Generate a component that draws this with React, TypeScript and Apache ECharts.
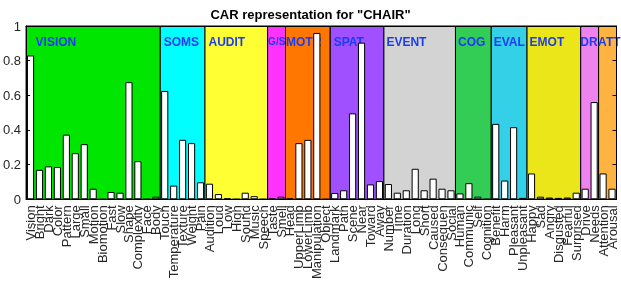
import React, { useEffect, useRef } from "react";
import * as echarts from "echarts";

const title = 'CAR representation for "CHAIR"';

const categories = [
  "Vision", "Bright", "Dark", "Color", "Pattern", "Large", "Small", "Motion", "Biomotion", "Fast", "Slow", "Shape", "Complexity", "Face", "Body",
  "Touch", "Temperature", "Texture", "Weight", "Pain",
  "Audition", "Loud", "Low", "High", "Sound", "Music", "Speech",
  "Taste", "Smell",
  "Head", "UpperLimb", "LowerLimb", "Manipulation", "Object",
  "Landmark", "Path", "Scene", "Near", "Toward", "Away",
  "Number", "Time", "Duration", "Long", "Short", "Caused", "Consequen", "Social",
  "Human", "Communic", "Self", "Cognition",
  "Benefit", "Harm", "Pleasant", "Unpleasant",
  "Happy", "Sad", "Angry", "Disgusted", "Fearful", "Surprised",
  "Drive", "Needs",
  "Attention", "Arousal",
];

const values = [
  0.83, 0.17, 0.19, 0.186, 0.373, 0.266, 0.318, 0.061, 0, 0.042, 0.038, 0.676, 0.22, 0, 0.015,
  0.625, 0.079, 0.343, 0.324, 0.098,
  0.09, 0.03, 0.005, 0, 0.038, 0.018, 0,
  0.004, 0.015,
  0.004, 0.324, 0.343, 0.96, 0,
  0.036, 0.052, 0.496, 0.904, 0.086, 0.105,
  0.088, 0.038, 0.052, 0.176, 0.052, 0.119, 0.061, 0.052,
  0.034, 0.093, 0.015, 0,
  0.435, 0.108, 0.416, 0.008,
  0.149, 0.015, 0.01, 0.008, 0.01, 0.038,
  0.061, 0.561,
  0.149, 0.061,
];

const groupNames = ["VISION", "SOMS", "AUDIT", "G/S", "MOTR", "SPAT", "EVENT", "COG", "EVAL", "EMOT", "DR", "ATT"];
const groupSizes = [15, 5, 7, 2, 5, 6, 8, 4, 4, 6, 2, 2];
const groupColors = ["#00e600", "#00ffff", "#ffff33", "#ff33ff", "#ff7700", "#a050ff", "#d3d3d3", "#33cc55", "#33d0e8", "#ebe61a", "#ee82ee", "#ffb340"];
const groupLabelOffsetX = [10, 4, 4, 1, 1, 4, 3, 3, 3, 3, 0, 0];
const groupLabelSize = [12, 12, 12, 10, 12, 12, 12, 12, 12, 12, 12, 12];

const yTicks = { min: 0, max: 1, interval: 0.2 };

export default function App() {
  const ref = useRef<HTMLDivElement>(null);

  useEffect(() => {
    if (!ref.current) return;
    const chart = echarts.init(ref.current, null, { renderer: "svg" });

    let start = 0;
    const areas = groupNames.map((name, i) => {
      const s = start;
      const e = start + groupSizes[i];
      start = e;
      return [
        {
          xAxis: s,
          name,
          itemStyle: { color: groupColors[i] },
          label: { position: [groupLabelOffsetX[i], groupLabelSize[i] < 12 ? 11 : 10], fontSize: groupLabelSize[i] },
        },
        { xAxis: e },
      ];
    });

    const font = "Liberation Sans, Arial, Helvetica, sans-serif";

    chart.setOption({
      animation: false,
      title: {
        text: title,
        left: "center",
        top: 3,
        textStyle: { fontSize: 13, fontWeight: "bold", color: "#000", fontFamily: font },
      },
      grid: { left: 22.5, top: 26, width: 594, height: 174 },
      xAxis: [
        {
          type: "category",
          data: categories,
          boundaryGap: true,
          axisLine: { lineStyle: { color: "#000", width: 1 } },
          axisTick: { inside: true, alignWithLabel: true, length: 4, lineStyle: { color: "#000" } },
          axisLabel: { interval: 0, rotate: 90, fontSize: 13, margin: 6, color: "#262626", fontFamily: font },
          z: 10,
        },
        {
          type: "value",
          min: 0,
          max: categories.length,
          show: false,
        },
        {
          type: "category",
          data: categories,
          position: "top",
          boundaryGap: true,
          axisLine: { lineStyle: { color: "#000", width: 1 } },
          axisTick: { inside: true, alignWithLabel: true, length: 4, lineStyle: { color: "#000" } },
          axisLabel: { show: false },
          z: 10,
        },
      ],
      yAxis: [
        {
          type: "value",
          min: yTicks.min,
          max: yTicks.max,
          interval: yTicks.interval,
          axisLine: { show: true, lineStyle: { color: "#000", width: 1 } },
          axisTick: { show: true, inside: true, length: 4, lineStyle: { color: "#000" } },
          axisLabel: { fontSize: 13, color: "#262626", margin: 5, fontFamily: font },
          splitLine: { show: false },
          z: 10,
        },
        {
          type: "value",
          position: "right",
          min: yTicks.min,
          max: yTicks.max,
          interval: yTicks.interval,
          axisLine: { show: true, lineStyle: { color: "#000", width: 1 } },
          axisTick: { show: true, inside: true, length: 4, lineStyle: { color: "#000" } },
          axisLabel: { show: false },
          splitLine: { show: false },
          z: 10,
        },
      ],
      series: [
        {
          type: "line",
          xAxisIndex: 1,
          yAxisIndex: 0,
          data: [[0, 0]],
          symbol: "none",
          showSymbol: false,
          lineStyle: { opacity: 0 },
          silent: true,
          z: 1,
          markArea: {
            silent: true,
            itemStyle: { borderColor: "#000", borderWidth: 1 },
            label: {
              show: true,
              color: "#1a3cf5",
              fontWeight: "bold",
              fontSize: 12,
              fontFamily: font,
            },
            data: areas,
          },
        },
        {
          type: "bar",
          xAxisIndex: 0,
          yAxisIndex: 0,
          data: values,
          barWidth: "80%",
          itemStyle: { color: "#ffffff", borderColor: "#000", borderWidth: 1 },
          z: 5,
        },
      ],
    });

    return () => chart.dispose();
  }, []);

  return (
    <div
      ref={ref}
      style={{ position: "fixed", left: 0, top: 0, width: 621, height: 282 }}
    />
  );
}
